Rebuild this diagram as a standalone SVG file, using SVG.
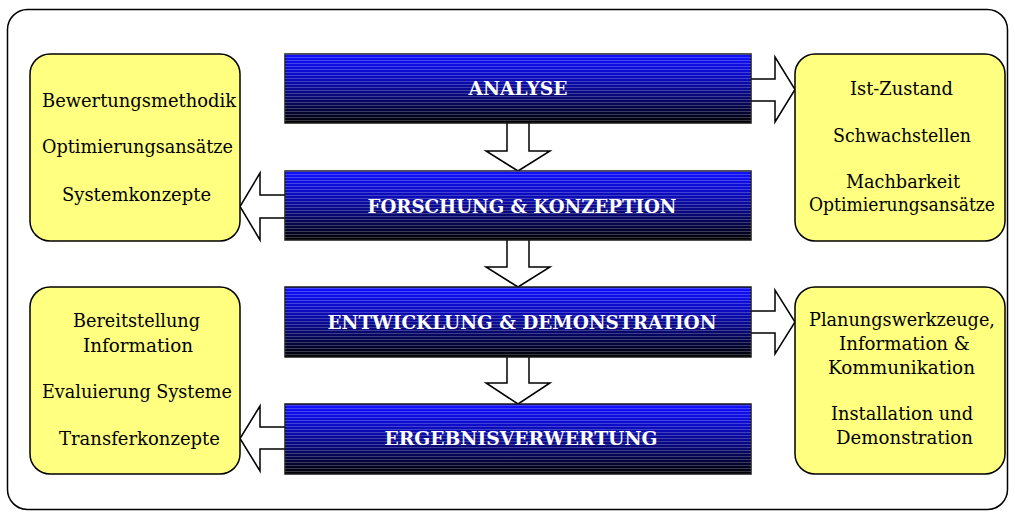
<svg xmlns="http://www.w3.org/2000/svg" width="1015" height="513" viewBox="0 0 1015 513">
  <style>
    .frame { fill: #ffffff; stroke: #000000; stroke-width: 1.5; }
    .bar { stroke: #1a1a1a; stroke-width: 1.5; }
    .bar-title { font-family: "DejaVu Serif", "Liberation Serif", serif; font-weight: bold; font-size: 18.5px; fill: #ffffff; text-anchor: middle; }
    .box { fill: #ffff80; stroke: #000000; stroke-width: 1.5; }
    .box-text { font-family: "DejaVu Serif", "Liberation Serif", serif; font-size: 19px; fill: #000000; text-anchor: middle; }
    .arrow { fill: #ffffff; stroke: #000000; stroke-width: 1.5; stroke-linejoin: miter; }
  </style>
  <defs>
    <linearGradient id="barFill" x1="0" y1="0" x2="0" y2="1">
      <stop offset="0" stop-color="#1010ff"/>
      <stop offset="0.3" stop-color="#0c0cc8"/>
      <stop offset="0.6" stop-color="#08087a"/>
      <stop offset="0.85" stop-color="#030330"/>
      <stop offset="1" stop-color="#000000"/>
    </linearGradient>
    <pattern id="stripes" width="8" height="3" patternUnits="userSpaceOnUse">
      <rect x="0" y="0" width="8" height="1" fill="#ffffff" fill-opacity="0.22"/>
    </pattern>
  </defs>

  <!-- outer frame -->
  <rect class="frame" x="7.5" y="9.5" width="1000" height="500" rx="20" ry="20"/>

  <!-- connectors: block arrows -->
  <g id="connectors">
    <path class="arrow" d="M507,123 L507,151 L486,151 L518,171 L550,151 L529,151 L529,123"/>
    <path class="arrow" d="M507,240 L507,267 L486,267 L518,287 L550,267 L529,267 L529,240"/>
    <path class="arrow" d="M507,357 L507,383 L486,383 L518,404 L550,383 L529,383 L529,357"/>
    <path class="arrow" d="M751,79 L775,79 L775,57 L795,89.5 L775,122 L775,101 L751,101"/>
    <path class="arrow" d="M751,311 L775,311 L775,290 L795,322 L775,354 L775,333 L751,333"/>
    <path class="arrow" d="M285,195 L260,195 L260,173 L240,206.5 L260,240 L260,218 L285,218"/>
    <path class="arrow" d="M285,427 L260,427 L260,406 L240,438.5 L260,471 L260,449 L285,449"/>
  </g>

  <!-- phase bars -->
  <g id="analyse">
    <rect class="bar" x="285" y="54" width="466" height="69" fill="url(#barFill)"/>
    <rect x="285" y="54" width="466" height="69" fill="url(#stripes)"/>
    <text class="bar-title" x="518" y="95" textLength="99" lengthAdjust="spacingAndGlyphs">ANALYSE</text>
  </g>
  <g id="forschung">
    <rect class="bar" x="285" y="171" width="466" height="69" fill="url(#barFill)"/>
    <rect x="285" y="171" width="466" height="69" fill="url(#stripes)"/>
    <text class="bar-title" x="522" y="213" textLength="309" lengthAdjust="spacingAndGlyphs">FORSCHUNG &amp; KONZEPTION</text>
  </g>
  <g id="entwicklung">
    <rect class="bar" x="285" y="287" width="466" height="70" fill="url(#barFill)"/>
    <rect x="285" y="287" width="466" height="70" fill="url(#stripes)"/>
    <text class="bar-title" x="522" y="329" textLength="389" lengthAdjust="spacingAndGlyphs">ENTWICKLUNG &amp; DEMONSTRATION</text>
  </g>
  <g id="ergebnis">
    <rect class="bar" x="285" y="404" width="466" height="70" fill="url(#barFill)"/>
    <rect x="285" y="404" width="466" height="70" fill="url(#stripes)"/>
    <text class="bar-title" x="521" y="445" textLength="273" lengthAdjust="spacingAndGlyphs">ERGEBNISVERWERTUNG</text>
  </g>

  <!-- side boxes -->
  <g id="box-left-top">
    <rect class="box" x="30" y="54" width="210" height="187" rx="20" ry="20"/>
    <text class="box-text" x="139" y="107" textLength="194" lengthAdjust="spacingAndGlyphs">Bewertungsmethodik</text>
    <text class="box-text" x="137.5" y="153" textLength="191" lengthAdjust="spacingAndGlyphs">Optimierungsansätze</text>
    <text class="box-text" x="136.5" y="201" textLength="149" lengthAdjust="spacingAndGlyphs">Systemkonzepte</text>
  </g>
  <g id="box-right-top">
    <rect class="box" x="795" y="54" width="210" height="187" rx="20" ry="20"/>
    <text class="box-text" x="901.5" y="95" textLength="103" lengthAdjust="spacingAndGlyphs">Ist-Zustand</text>
    <text class="box-text" x="902" y="142" textLength="138" lengthAdjust="spacingAndGlyphs">Schwachstellen</text>
    <text class="box-text" x="903" y="188" textLength="114" lengthAdjust="spacingAndGlyphs">Machbarkeit</text>
    <text class="box-text" x="902" y="211" textLength="186" lengthAdjust="spacingAndGlyphs">Optimierungsansätze</text>
  </g>
  <g id="box-left-bottom">
    <rect class="box" x="30" y="287" width="210" height="187" rx="20" ry="20"/>
    <text class="box-text" x="136.5" y="327" textLength="127" lengthAdjust="spacingAndGlyphs">Bereitstellung</text>
    <text class="box-text" x="138" y="352" textLength="110" lengthAdjust="spacingAndGlyphs">Information</text>
    <text class="box-text" x="137" y="398" textLength="190" lengthAdjust="spacingAndGlyphs">Evaluierung Systeme</text>
    <text class="box-text" x="139.5" y="445" textLength="161" lengthAdjust="spacingAndGlyphs">Transferkonzepte</text>
  </g>
  <g id="box-right-bottom">
    <rect class="box" x="795" y="287" width="210" height="187" rx="20" ry="20"/>
    <text class="box-text" x="902" y="326" textLength="186" lengthAdjust="spacingAndGlyphs">Planungswerkzeuge,</text>
    <text class="box-text" x="904.5" y="350" textLength="131" lengthAdjust="spacingAndGlyphs">Information &amp;</text>
    <text class="box-text" x="901.5" y="374" textLength="147" lengthAdjust="spacingAndGlyphs">Kommunikation</text>
    <text class="box-text" x="902" y="420" textLength="142" lengthAdjust="spacingAndGlyphs">Installation und</text>
    <text class="box-text" x="904.5" y="444" textLength="137" lengthAdjust="spacingAndGlyphs">Demonstration</text>
  </g>
</svg>
